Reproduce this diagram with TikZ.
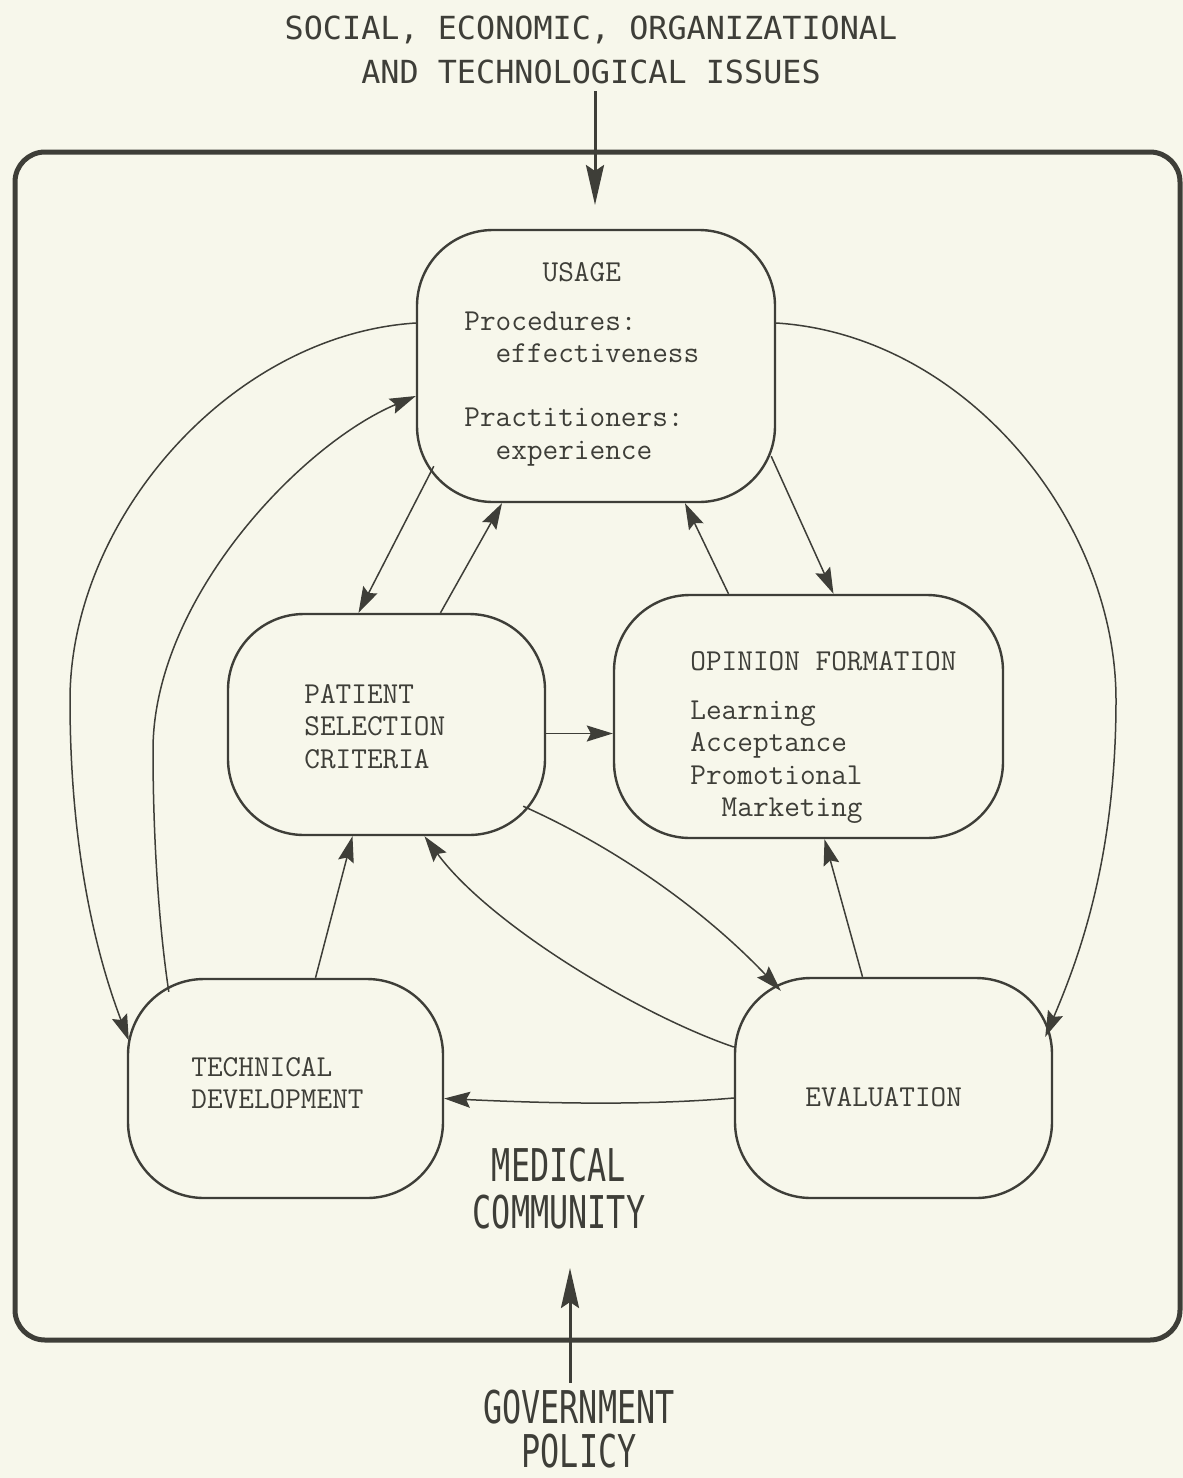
\documentclass[tikz,border=0pt]{standalone}
\usepackage{graphicx}
\usepackage{fontspec}
\usetikzlibrary{arrows.meta}
\newfontfamily\plotfont{DejaVu Sans Mono}
\newcommand{\boxfont}{\fontsize{15.2pt}{16.25pt}\selectfont\ttfamily}
\newcommand{\capfont}{\fontsize{15.9pt}{22pt}\selectfont\plotfont}
\newcommand{\tallcap}[1]{\scalebox{1}[1.42]{#1}}
\definecolor{paper}{RGB}{247,247,235}
\definecolor{ink}{RGB}{62,62,56}
\tikzset{
        box/.style={draw=ink, line width=1.2pt, rounded corners=38pt, inner sep=0pt},
        frame/.style={draw=ink, line width=2.5pt, rounded corners=15pt, inner sep=0pt},
        txt/.style={font=\boxfont, text=ink, align=left, inner sep=0pt, anchor=north west},
        caption/.style={font=\capfont, text=ink, align=center},
        link/.style={draw=ink, line width=0.75pt, -{Stealth[length=13pt,width=8pt,inset=2pt]}},
        feed/.style={draw=ink, line width=1.5pt, -{Stealth[length=20pt,width=9pt,inset=3pt]}}
}

\begin{document}
\begin{tikzpicture}[x=0.5pt, y=-0.5pt]
        \path[use as bounding box, fill=paper] (0,0) rectangle (1183,1478);
        \node (frame) [frame, minimum width=582.5pt, minimum height=594pt] at (597.5,746) {};
        \node (usage) [box, minimum width=179pt, minimum height=136pt] at (596,366) {};
        \node (patient) [box, minimum width=158.5pt, minimum height=110.5pt] at (386.5,724.5) {};
        \node (opinion) [box, minimum width=194.5pt, minimum height=121.5pt] at (808.5,716.5) {};
        \node (tech) [box, minimum width=157.5pt, minimum height=109.5pt] at (285.5,1088.5) {};
        \node (eval) [box, minimum width=158.5pt, minimum height=110pt] at (893.5,1088) {};
        \node (usagetext) [txt] at (464,262) {\phantom{xxxxx}USAGE\\[8.25pt]Procedures:\\\phantom{xx}effectiveness\\[15.75pt]Practitioners:\\\phantom{xx}experience};
        \node (patienttext) [txt] at (304,684) {PATIENT\\SELECTION\\CRITERIA};
        \node (opiniontext) [txt] at (690,651) {OPINION FORMATION\\[8.25pt]Learning\\Acceptance\\Promotional\\\phantom{xx}Marketing};
        \node (techtext) [txt] at (191,1057) {TECHNICAL\\DEVELOPMENT};
        \node (evaltext) [txt] at (805,1087) {EVALUATION};
        \node (issues) [caption] at (591,50) {SOCIAL, ECONOMIC, ORGANIZATIONAL\\AND TECHNOLOGICAL ISSUES};
        \node (medical) [caption] at (559,1189) {\tallcap{MEDICAL}\\[1.5pt]\tallcap{COMMUNITY}};
        \node (policy) [caption] at (579,1429) {\tallcap{GOVERNMENT}\\\tallcap{POLICY}};
        \coordinate (issuesin) at (595,205);
        \coordinate (policyin) at (570,1268);
        \draw[feed] (issues.south -| issuesin) -- (issuesin);
        \draw[feed] (policy.north -| policyin) -- (policyin);
        \draw[link] ([shift={(18,-37)}]usage.south west) -- ([shift={(-28,0)}]patient.north);
        \draw[link] ([shift={(54,0)}]patient.north) -- ([shift={(-94,0)}]usage.south);
        \draw[link] ([shift={(-5,-47)}]usage.south east) -- ([shift={(25,0)}]opinion.north);
        \draw[link] ([shift={(-80,0)}]opinion.north) -- ([shift={(89,0)}]usage.south);
        \draw[link] ([shift={(0,9)}]patient.east) -- ([shift={(0,17)}]opinion.west);
        \draw[link] ([shift={(-23,-30)}]patient.south east) .. controls (621,850) and (707,913) .. ([shift={(47,14)}]eval.north west);
        \draw[link] ([shift={(0,-41)}]eval.west) .. controls (640,1015) and (490,925) .. ([shift={(38,0)}]patient.south);
        \draw[link] ([shift={(30,0)}]tech.north) -- ([shift={(-34,0)}]patient.south);
        \draw[link] ([shift={(-31,0)}]eval.north) -- ([shift={(16,0)}]opinion.south);
        \draw[link] ([shift={(0,10)}]eval.west) .. controls (640,1106) and (540,1103) .. ([shift={(0,10)}]tech.east);
        \draw[link] ([shift={(0,-43)}]usage.west) .. controls (230,335) and (70,520) .. (70,700) .. controls (70,860) and (100,965) .. ([shift={(2,-48)}]tech.west);
        \draw[link] ([shift={(42,14)}]tech.north west) .. controls (158,920) and (153,830) .. (153,750) .. controls (153,600) and (300,445) .. ([shift={(0,30)}]usage.west);
        \draw[link] ([shift={(0,-43)}]usage.east) .. controls (965,335) and (1116,520) .. (1116,700) .. controls (1116,860) and (1078,960) .. ([shift={(-8,-51)}]eval.east);
\end{tikzpicture}
\end{document}
